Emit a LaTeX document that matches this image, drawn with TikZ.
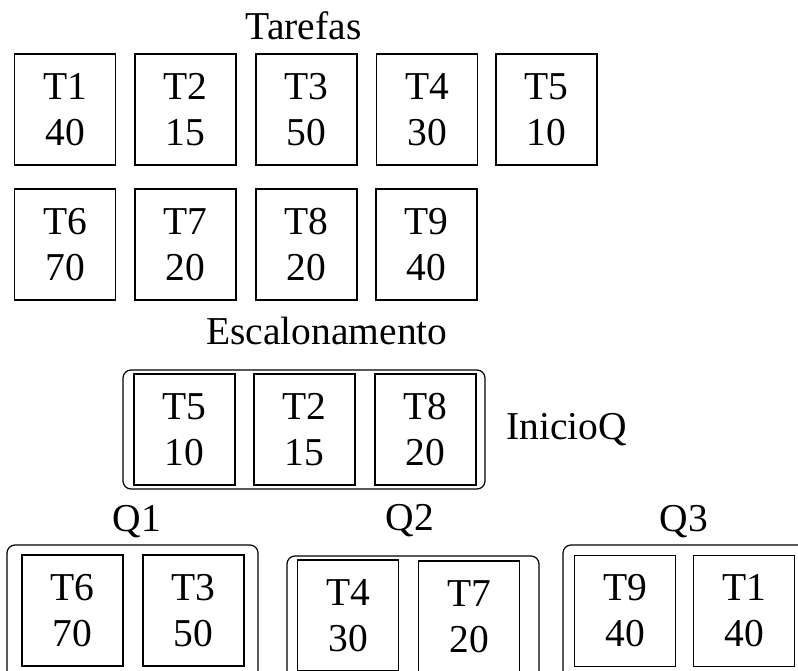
\documentclass[tikz,border=0pt]{standalone}
\usepackage{fontspec}
\setmainfont{Liberation Serif}
\begin{document}
\begin{tikzpicture}[x=1pt,y=-1pt,
  lbl/.style={font=\fontsize{39.5}{46}\selectfont, inner sep=0pt, anchor=base},
  tbox/.style={draw, line width=1.1pt, minimum width=101pt, minimum height=111pt,
    inner sep=0pt, align=center, font=\fontsize{39.5}{46}\selectfont},
  grp/.style={draw, line width=1.2pt, rounded corners=8pt, inner sep=0pt}]
\useasboundingbox (0,0) rectangle (798,671);
\clip (0,0) rectangle (798,671);

% Tarefas
\node[lbl] (tarefas) at (303.5,40) {Tarefas};
\node[tbox] (a1) at (65,109.5) {T1\\40};
\node[tbox] (a2) at (185.5,109.5) {T2\\15};
\node[tbox] (a3) at (306.5,109.5) {T3\\50};
\node[tbox] (a4) at (427,109.5) {T4\\30};
\node[tbox] (a5) at (546.5,109.5) {T5\\10};
\node[tbox] (a6) at (65,244.5) {T6\\70};
\node[tbox] (a7) at (185.5,244.5) {T7\\20};
\node[tbox] (a8) at (306.5,244.5) {T8\\20};
\node[tbox] (a9) at (426.5,244.5) {T9\\40};

% Escalonamento
\node[lbl] (escal) at (327,344) {Escalonamento};
\node[grp, minimum width=362pt, minimum height=119pt] (inicio) at (304,429.5) {};
\node[tbox] (e1) at (184.5,429.5) {T5\\10};
\node[tbox] (e2) at (304.5,429.5) {T2\\15};
\node[tbox] (e3) at (425.5,429.5) {T8\\20};
\node[lbl, anchor=base west] (inicioq) at (506,439) {InicioQ};

% Queues
\node[lbl] (q1l) at (137,531) {Q1};
\node[lbl] (q2l) at (410,530) {Q2};
\node[lbl] (q3l) at (684,531) {Q3};

\node[grp, minimum width=251pt, minimum height=155pt] (q1) at (132.5,622.5) {};
\node[tbox] (q1a) at (72.5,610.5) {T6\\70};
\node[tbox] (q1b) at (193.5,610.5) {T3\\50};

\node[grp, minimum width=252pt, minimum height=144pt] (q2) at (413,628) {};
\node[tbox] (q2a) at (348,615.5) {T4\\30};
\node[tbox] (q2b) at (469,616.5) {T7\\20};

\node[grp, minimum width=267pt, minimum height=155pt] (q3) at (696.5,622.5) {};
\node[tbox] (q3a) at (625,611) {T9\\40};
\node[tbox] (q3b) at (744,611) {T1\\40};
\end{tikzpicture}
\end{document}
